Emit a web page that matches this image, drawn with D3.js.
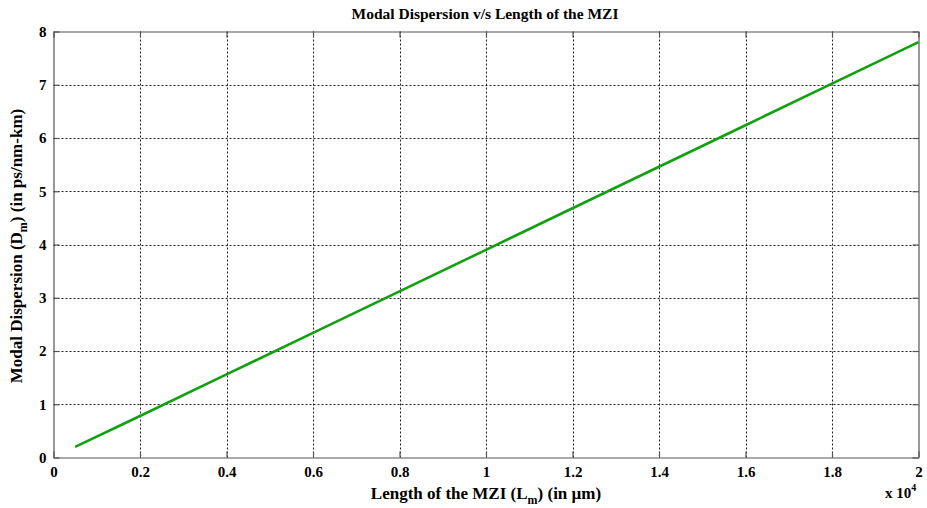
<!DOCTYPE html>
<html><head><meta charset="utf-8">
<script src="https://cdn.jsdelivr.net/npm/d3@7"></script>
<style>
body{margin:0;background:#fff;}
text{font-family:"Liberation Serif","Times New Roman",serif;font-weight:bold;fill:#000;}
</style></head>
<body><svg id="c" width="927" height="508"></svg>
<script>
const lengthX = [0.05, 0.2, 0.4, 0.6, 0.8, 1.0, 1.2, 1.4, 1.6, 1.8, 2.0];
const dispersion = [0.2, 0.78, 1.56, 2.34, 3.12, 3.9, 4.68, 5.46, 6.24, 7.02, 7.8];
const xTicks = [0, 0.2, 0.4, 0.6, 0.8, 1, 1.2, 1.4, 1.6, 1.8, 2];
const yTicks = [0, 1, 2, 3, 4, 5, 6, 7, 8];

const svg = d3.select("#c");
const L = 53.5, R = 918.5, T = 31.5, B = 457.5;
const x = d3.scaleLinear().domain([0, 2]).range([L, R]);
const y = d3.scaleLinear().domain([0, 8]).range([B, T]);

// grid
const g = svg.append("g");
g.selectAll(".vg").data(xTicks.slice(1, -1)).join("line")
  .attr("x1", d => Math.round(x(d)) + 0.5).attr("x2", d => Math.round(x(d)) + 0.5)
  .attr("y1", T).attr("y2", B)
  .attr("stroke", "#222").attr("stroke-width", 1).attr("stroke-dasharray", "2,2");
g.selectAll(".hg").data(yTicks.slice(1, -1)).join("line")
  .attr("y1", d => Math.round(y(d)) + 0.5).attr("y2", d => Math.round(y(d)) + 0.5)
  .attr("x1", L).attr("x2", R)
  .attr("stroke", "#222").attr("stroke-width", 1).attr("stroke-dasharray", "2,2");

// axes
const fmt = d => String(d);
const xa = svg.append("g").attr("transform", `translate(0,${B})`)
  .call(d3.axisBottom(x).tickValues(xTicks).tickFormat(fmt).tickSizeInner(-6).tickSizeOuter(0).tickPadding(9));
const xt = svg.append("g").attr("transform", `translate(0,${T})`)
  .call(d3.axisTop(x).tickValues(xTicks).tickFormat("").tickSizeInner(-6).tickSizeOuter(0));
const ya = svg.append("g").attr("transform", `translate(${L},0)`)
  .call(d3.axisLeft(y).tickValues(yTicks).tickFormat(fmt).tickSizeInner(-6).tickSizeOuter(0).tickPadding(7));
const yr = svg.append("g").attr("transform", `translate(${R},0)`)
  .call(d3.axisRight(y).tickValues(yTicks).tickFormat("").tickSizeInner(-6).tickSizeOuter(0));
[xa, xt, ya, yr].forEach(a => {
  a.selectAll("path,line").attr("stroke", "#555").attr("stroke-width", 1.2);
  a.selectAll("text").style("font-size", "15px").style("font-family", '"Liberation Serif",serif').style("font-weight", "bold").attr("fill", "#000");
});

// line
svg.append("path").datum(lengthX.map((v, i) => [v, dispersion[i]]))
  .attr("fill", "none").attr("stroke", "#10a010").attr("stroke-width", 2.6)
  .attr("d", d3.line().x(d => x(d[0])).y(d => y(d[1])));

// title
svg.append("text").attr("x", 485).attr("y", 19).attr("text-anchor", "middle")
  .style("font-size", "15.5px").text("Modal Dispersion v/s Length of the MZI");

// x label
const xl = svg.append("text").attr("x", 486).attr("y", 499).attr("text-anchor", "middle").style("font-size", "17px");
xl.append("tspan").text("Length of the MZI (L");
xl.append("tspan").attr("dy", 5).style("font-size", "12px").text("m");
xl.append("tspan").attr("dy", -5).text(") (in µm)");

// y label
const yl = svg.append("text").attr("transform", "translate(22,246) rotate(-90)").attr("text-anchor", "middle").style("font-size", "17px");
yl.append("tspan").text("Modal Dispersion (D");
yl.append("tspan").attr("dy", 5).style("font-size", "12px").text("m");
yl.append("tspan").attr("dy", -5).text(") (in ps/nm-km)");

// exponent
const ex = svg.append("text").attr("x", 885).attr("y", 498).style("font-size", "15px");
ex.append("tspan").text("x 10");
ex.append("tspan").attr("dy", -7).style("font-size", "10px").text("4");
</script></body></html>
